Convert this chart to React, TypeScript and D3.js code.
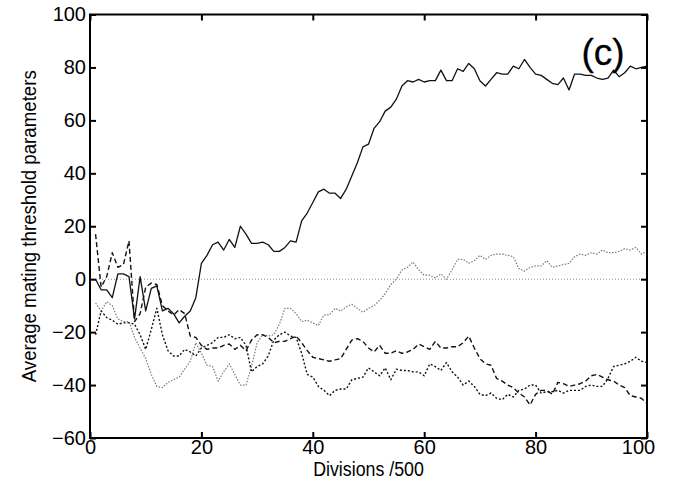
import React, { useEffect, useRef } from "react";
import * as d3 from "d3";

// Average mating threshold parameters over time, four populations.
const solidSeries = [
  0, -4, -4, -7, 2, 2, 1, -15, 1, -12, -3.5, -2.5, -12, -11, -13, -16.5, -14, -12, -7, 6,
  9, 13, 14, 11, 15, 12, 20, 17, 13.5, 13.5, 14, 13, 10.5, 10.5, 12, 14.5, 14, 22, 25, 29,
  33, 34, 32.5, 32.5, 30.5, 34, 39, 44, 50, 51, 57, 59.5, 63.5, 65, 68, 73, 75, 74.5, 75.5, 74.5,
  75, 75, 79, 75, 75, 79.5, 78.5, 81.5, 79.5, 75, 73, 75.5, 78, 77.5, 77.5, 80.5, 79.5, 83, 80, 77.5,
  77, 75.5, 74, 73.5, 76, 71.5, 77.5, 77.5, 77, 77, 76, 75.5, 76, 79, 76.5, 78, 80.5, 79.5, 80, 80.5,
];

const dashedSeries = [
  17, -3, 1, 10, 4.5, 5.5, 14.5, -16, -13, -3, -1.5, -2, -10, -12, -13.5, -11.5, -13, -21.5, -22, -25,
  -26.5, -26, -26, -25, -24.5, -26.5, -25, -27, -23, -21, -21, -22, -24, -23.5, -23.5, -22.5, -21.5, -24, -27, -29.5,
  -30, -30.5, -31, -30.5, -30, -26.5, -23, -22.5, -23.5, -26, -27.5, -25, -28, -28, -27, -28, -27.5, -26.5, -24.5, -25.5,
  -26.5, -23.5, -26, -26, -25.5, -25.5, -24, -21.5, -26, -30, -32, -32.5, -37.5, -38.5, -40, -41, -43, -44.5, -47.5, -43.5,
  -42, -42, -43.5, -39, -39.5, -40.5, -40, -39.5, -38.5, -36.5, -36, -37, -38, -38.5, -40, -41, -44, -44.5, -45, -47,
];

const dottedSeries = [
  -21, -12, -14.5, -15.5, -17, -16.5, -16.5, -17, -21, -26.5, -19, -11, -21, -27, -29, -29, -26.5, -27.5, -29, -26,
  -25, -24, -22, -22, -21, -22.5, -22, -25, -35, -33, -32, -29, -23, -21, -20, -21.5, -22, -28, -36, -37,
  -40.5, -42, -44, -42, -41.5, -41.5, -38, -37.5, -37, -33.5, -35, -36.5, -33.5, -38, -34, -34.5, -34.5, -35, -35, -36.5,
  -32, -33, -34.5, -31.5, -35, -37, -40, -38.5, -40.5, -43.5, -44, -43, -45, -45.5, -43.5, -44.5, -42, -41.5, -40, -40,
  -43, -42.5, -42.5, -42, -43, -42, -42, -42, -40.5, -40, -40.5, -40.5, -37.5, -33, -32.5, -32, -31, -29.5, -31, -31.5,
];

const grayDottedSeries = [
  -9, -12, -8.5, -10, -15, -16, -16, -22, -26, -30, -36, -40.5, -41, -39, -38, -37, -34, -31, -24, -28,
  -32.5, -33, -38.5, -35, -32, -36, -40, -40, -33, -24, -21, -21.5, -21, -17, -11, -11, -13, -16, -15.5, -16.5,
  -17.5, -13.5, -13.5, -11, -12, -10.5, -9.5, -11, -12.5, -11, -10, -8, -5.5, -2, 0, 3.5, 4.5, 6.5, 3.5, 1.5,
  1.5, 0.5, 2, 0, 3.5, 7.5, 7.5, 6, 7, 9, 7.5, 9, 9.5, 9.5, 9, 8.5, 4, 3, 4.5, 5,
  5, 7, 4.5, 5, 5.5, 6, 8.5, 9.5, 9, 10, 9.5, 11, 10, 10, 10.5, 11.5, 11, 12, 9.5, 10.5,
];

const xTicks = [0, 20, 40, 60, 80, 100];
const yTicks = [-60, -40, -20, 0, 20, 40, 60, 80, 100];

const xLabel = "Divisions /500";
const yLabel = "Average mating threshold parameters";
const panelLabel = "(c)";

const W = 685;
const H = 481;
const FONT = "'Liberation Sans', Arial, Helvetica, sans-serif";

export default function App() {
  const ref = useRef<SVGSVGElement | null>(null);

  useEffect(() => {
    const svg = d3.select(ref.current);
    svg.selectAll("*").remove();

    const x = d3.scaleLinear().domain([0, 100]).range([90, 647]);
    const y = d3.scaleLinear().domain([-60, 100]).range([438, 14.5]);

    const steps = solidSeries.map((_, i) => i + 1);

    // zero reference line
    svg
      .append("line")
      .attr("x1", x(0))
      .attr("x2", x(100))
      .attr("y1", y(0))
      .attr("y2", y(0))
      .attr("stroke", "#8a8a8a")
      .attr("stroke-width", 1)
      .attr("stroke-dasharray", "1,2");

    const line = d3
      .line<number>()
      .x((_, i) => x(steps[i]))
      .y((d) => y(d));

    const styles = [
      { data: grayDottedSeries, color: "#7a7a7a", width: 1.2, dash: "1.5,1.5" },
      { data: dottedSeries, color: "#111", width: 1.4, dash: "2,2" },
      { data: dashedSeries, color: "#111", width: 1.4, dash: "5,3" },
      { data: solidSeries, color: "#111", width: 1.3, dash: null },
    ];

    styles.forEach((s) => {
      svg
        .append("path")
        .attr("d", line(s.data) as string)
        .attr("fill", "none")
        .attr("stroke", s.color)
        .attr("stroke-width", s.width)
        .attr("stroke-linejoin", "round")
        .attr("stroke-dasharray", s.dash);
    });

    // frame
    svg
      .append("rect")
      .attr("x", x(0))
      .attr("y", y(100))
      .attr("width", x(100) - x(0))
      .attr("height", y(-60) - y(100))
      .attr("fill", "none")
      .attr("stroke", "#000")
      .attr("stroke-width", 2);

    const tickLen = 6;

    // bottom & top axes (ticks point inward)
    const bottom = d3.axisBottom(x).tickValues(xTicks).tickSize(-tickLen).tickPadding(2).tickFormat(d3.format("d"));
    const gB = svg.append("g").attr("transform", `translate(0,${y(-60)})`).call(bottom);
    const top = d3.axisTop(x).tickValues(xTicks).tickSize(-tickLen).tickFormat(() => "");
    const gT = svg.append("g").attr("transform", `translate(0,${y(100)})`).call(top);

    const left = d3.axisLeft(y).tickValues(yTicks).tickSize(-tickLen).tickPadding(4).tickFormat(d3.format("d"));
    const gL = svg.append("g").attr("transform", `translate(${x(0)},0)`).call(left);
    const right = d3.axisRight(y).tickValues(yTicks).tickSize(-tickLen).tickFormat(() => "");
    const gR = svg.append("g").attr("transform", `translate(${x(100)},0)`).call(right);

    [gB, gT, gL, gR].forEach((g) => {
      g.select(".domain").remove();
      g.selectAll(".tick line").attr("stroke", "#000").attr("stroke-width", 2);
      g.selectAll(".tick text")
        .attr("fill", "#000")
        .attr("font-family", FONT)
        .attr("font-size", 20);
    });

    // the last bottom label sits just inside the right edge
    gB.selectAll<SVGTextElement, number>(".tick text")
      .filter((d) => d === 100)
      .attr("dx", -9);

    // axis titles, slightly condensed along the baseline
    svg
      .append("text")
      .attr("transform", `translate(${(x(0) + x(100)) / 2},476) scale(0.89,1)`)
      .attr("text-anchor", "middle")
      .attr("font-family", FONT)
      .attr("font-size", 20)
      .text(xLabel);

    svg
      .append("text")
      .attr("transform", `translate(36,${(y(100) + y(-60)) / 2}) scale(1,0.89) rotate(-90)`)
      .attr("text-anchor", "middle")
      .attr("font-family", FONT)
      .attr("font-size", 21)
      .text(yLabel);

    svg
      .append("text")
      .attr("x", 603)
      .attr("y", 65)
      .attr("text-anchor", "middle")
      .attr("font-family", FONT)
      .attr("font-size", 37)
      .attr("stroke", "#000")
      .attr("stroke-width", 0.3)
      .text(panelLabel);
  }, []);

  return (
    <svg
      ref={ref}
      width={W}
      height={H}
      style={{ position: "absolute", left: 0, top: 0, background: "#fff" }}
    />
  );
}
